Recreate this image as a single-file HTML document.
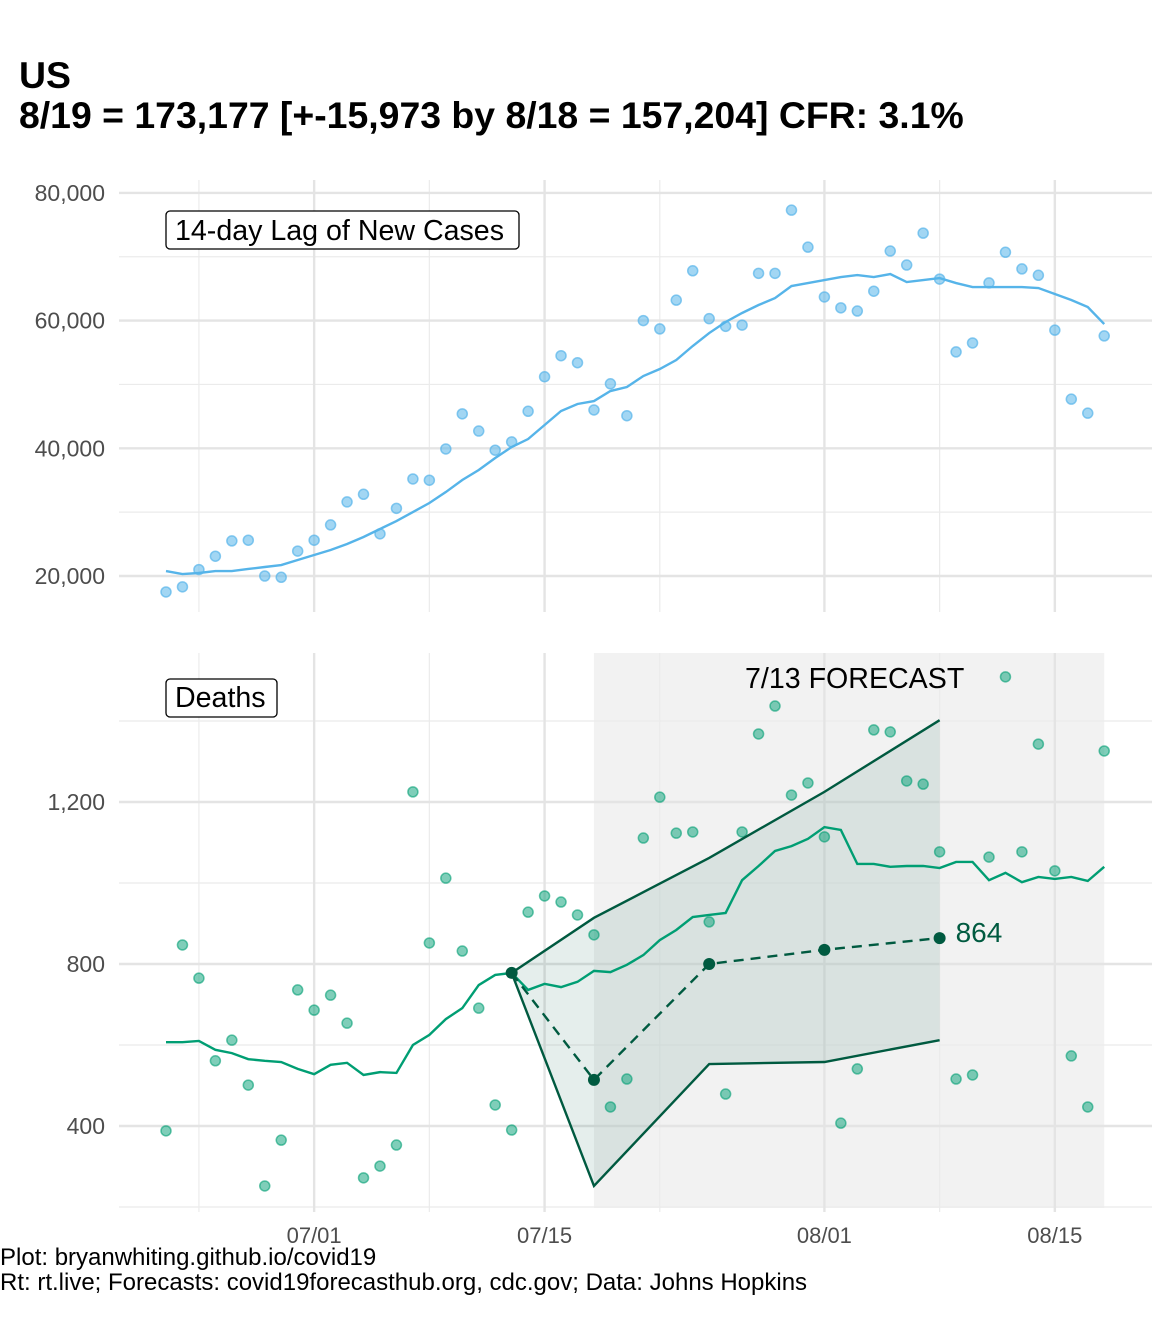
<!DOCTYPE html>
<html><head><meta charset="utf-8">
<style>
html,body{margin:0;padding:0;background:#fff;}
svg{display:block;font-family:"Liberation Sans",sans-serif;}
</style></head>
<body>
<svg id="chart" width="1152" height="1344" viewBox="0 0 1152 1344" xmlns="http://www.w3.org/2000/svg">
<text x="19" y="88" font-size="37.4" font-weight="bold" fill="#000">US</text>
<text x="19" y="128" font-size="37.4" font-weight="bold" fill="#000">8/19 = 173,177 [+-15,973 by 8/18 = 157,204] CFR: 3.1%</text>
<g id="topPanel"></g>
<g id="botPanel"></g>
<text x="0" y="1265" font-size="24" fill="#000">Plot: bryanwhiting.github.io/covid19</text>
<text x="0" y="1290" font-size="24" fill="#000">Rt: rt.live; Forecasts: covid19forecasthub.org, cdc.gov; Data: Johns Hopkins</text>
</svg>
<script>
// Day index 0 = 06/22 ... 57 = 08/18
const caseDots = [17500,18300,21000,23100,25500,25600,20000,19800,23900,25600,28000,31600,32800,26600,30600,35200,35000,39900,45400,42700,39700,41000,45800,51200,54500,53400,46000,50100,45100,60000,58700,63200,67800,60300,59100,59300,67400,67400,77300,71500,63700,62000,61500,64600,70900,68700,73700,66500,55100,56500,65900,70700,68100,67100,58500,47700,45500,57600];
const caseTrend = [20780,20310,20470,20780,20780,21100,21410,21720,22510,23290,24070,25010,26110,27360,28610,30020,31430,33150,35030,36600,38480,40200,41450,43650,45840,46940,47400,48970,49600,51320,52420,53830,56020,58050,59780,61190,62440,63530,65410,65880,66350,66820,67130,66820,67290,66040,66350,66660,65880,65260,65260,65260,65260,65100,64160,63220,62130,59460];
const deathDots = [388,847,765,561,612,501,252,365,736,686,723,654,272,301,353,1225,852,1012,832,691,452,390,928,968,953,921,872,447,516,1111,1212,1123,1126,904,479,1126,1368,1437,1217,1247,1114,407,541,1378,1373,1252,1244,1077,516,526,1064,1509,1077,1343,1030,573,447,1326];
const deathTrend = [607,607,610,588,580,565,561,558,541,528,551,556,526,533,531,600,625,664,691,748,773,778,736,751,743,756,783,780,798,822,859,884,916,921,926,1007,1042,1079,1091,1109,1138,1131,1047,1047,1040,1042,1042,1037,1052,1052,1007,1025,1002,1015,1010,1015,1005,1040];
const fcDays = [21,26,33,40,47];
const fcMid = [778,514,800,835,864];
const fcUpper = [778,914,1062,1225,1402];
const fcLower = [778,252,553,558,612];
const topTicks = [20000,40000,60000,80000];
const botTicks = [400,800,1200];
const xTickDays = [9,23,40,54];
const xTickLabels = ["07/01","07/15","08/01","08/15"];

const NS="http://www.w3.org/2000/svg";
const x = d => 166 + d*16.46;
const yTop = v => 576 - (v-20000)*127.7/20000;
const yBot = v => 802 - (v-1200)*0.405;
function mk(parent,tag,attrs){const e=document.createElementNS(NS,tag);for(const k in attrs)e.setAttribute(k,attrs[k]);parent.appendChild(e);return e;}
const topG=document.getElementById('topPanel'), botG=document.getElementById('botPanel');

function grid(g,y0,y1,yf,ticks,minor){
  minor.forEach(v=>{const l=mk(g,'line',{x1:119,x2:1152,y1:yf(v),y2:yf(v),stroke:'#ebebeb','stroke-width':1.2});
    });
  [2,16,30,47].forEach(d=>{const l=mk(g,'line',{x1:x(d),x2:x(d),y1:y0,y2:y1,stroke:'#ebebeb','stroke-width':1.2});
    });
  ticks.forEach(v=>{const l=mk(g,'line',{x1:119,x2:1152,y1:yf(v),y2:yf(v),stroke:'#e4e4e4','stroke-width':2.4});
    });
  xTickDays.forEach(d=>{const l=mk(g,'line',{x1:x(d),x2:x(d),y1:y0,y2:y1,stroke:'#e4e4e4','stroke-width':2.4});
    });
}
function yLabels(g,yf,ticks){
  ticks.forEach(v=>{const t=mk(g,'text',{x:105,y:yf(v)+8,'text-anchor':'end','font-size':23,fill:'#4d4d4d'});
    t.textContent=v.toLocaleString('en-US');
    });
}
function path(arr,xf,yf){return arr.map((v,i)=>(i?'L':'M')+xf(i)+','+yf(v)).join(' ');}

// TOP PANEL
grid(topG,180,612,yTop,topTicks,[30000,50000,70000]);
yLabels(topG,yTop,topTicks);
caseDots.forEach((v,i)=>{const c=mk(topG,'circle',{cx:x(i),cy:yTop(v),r:5,fill:'#56B4E9','fill-opacity':0.55,stroke:'#56B4E9','stroke-opacity':0.7,'stroke-width':1.5});
  });
const tl=mk(topG,'path',{d:path(caseTrend,x,yTop),fill:'none',stroke:'#56B4E9','stroke-width':2.4});

const lb1=mk(topG,'rect',{x:166,y:211,width:353,height:38,rx:4,fill:'#fff',stroke:'#000','stroke-width':1.3});

const lt1=mk(topG,'text',{x:175,y:240,'font-size':28.6,fill:'#000'});lt1.textContent='14-day Lag of New Cases';


// BOTTOM PANEL
const shade=mk(botG,'rect',{x:x(26),y:653,width:x(57)-x(26),height:555,fill:'#f2f2f2'});

grid(botG,653,1212,yBot,botTicks,[200,600,1000,1400]);
yLabels(botG,yBot,botTicks);
let rp='M'+fcDays.map((d,i)=>x(d)+','+yBot(fcUpper[i])).join(' L');
rp+=' L'+fcDays.slice().reverse().map((d,j)=>x(d)+','+yBot(fcLower[fcDays.length-1-j])).join(' L')+' Z';
const rib=mk(botG,'path',{d:rp,fill:'#005a40','fill-opacity':0.1,stroke:'none'});

deathDots.forEach((v,i)=>{const c=mk(botG,'circle',{cx:x(i),cy:yBot(v),r:5,fill:'#009E73','fill-opacity':0.5,stroke:'#009E73','stroke-opacity':0.6,'stroke-width':1.5});
  });
const dl=mk(botG,'path',{d:path(deathTrend,x,yBot),fill:'none',stroke:'#009E73','stroke-width':2.4});

const fx=i=>x(fcDays[i]);
const up=mk(botG,'path',{d:path(fcUpper,fx,yBot),fill:'none',stroke:'#005a40','stroke-width':2.4});

const lo=mk(botG,'path',{d:path(fcLower,fx,yBot),fill:'none',stroke:'#005a40','stroke-width':2.4});

const md=mk(botG,'path',{d:path(fcMid,fx,yBot),fill:'none',stroke:'#005a40','stroke-width':2.4,'stroke-dasharray':'10,7'});

fcMid.forEach((v,i)=>{const c=mk(botG,'circle',{cx:fx(i),cy:yBot(v),r:6,fill:'#005a40'});
  });
const fl=mk(botG,'text',{x:fx(fcMid.length-1)+16,y:yBot(fcMid[fcMid.length-1])+4,'font-size':28,fill:'#005a40'});
fl.textContent=String(fcMid[fcMid.length-1]);

const ft=mk(botG,'text',{x:745,y:688,'font-size':28.6,fill:'#000'});ft.textContent='7/13 FORECAST';

const lb2=mk(botG,'rect',{x:166,y:679,width:111,height:38,rx:4,fill:'#fff',stroke:'#000','stroke-width':1.3});

const lt2=mk(botG,'text',{x:175,y:707,'font-size':28.6,fill:'#000'});lt2.textContent='Deaths';

xTickDays.forEach((d,i)=>{const t=mk(botG,'text',{x:x(d),y:1243,'text-anchor':'middle','font-size':22,fill:'#4d4d4d'});
  t.textContent=xTickLabels[i];
  });
</script>
</body></html>
